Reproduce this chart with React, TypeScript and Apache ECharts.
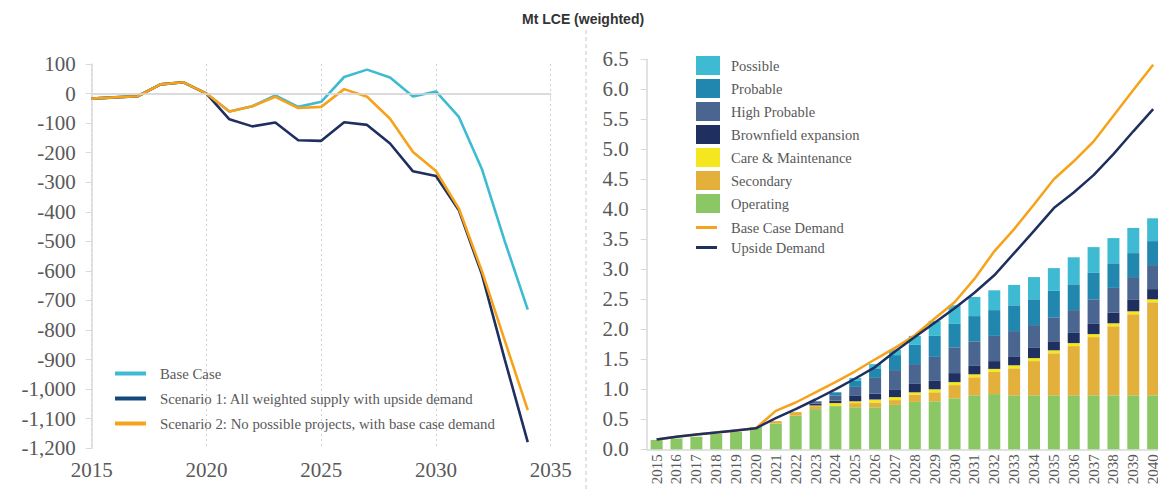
import React, { useEffect, useRef } from "react";
import * as echarts from "echarts";

// ---------- Left chart: balance (kt LCE) ----------
const balanceYears = [2015, 2016, 2017, 2018, 2019, 2020, 2021, 2022, 2023, 2024, 2025, 2026, 2027, 2028, 2029, 2030, 2031, 2032, 2033, 2034];
const baseCase = [-17, -13, -9, 31, 38, 0, -61, -43, -6, -45, -28, 56, 81, 54, -10, 7, -79, -255, -500, -731];
const scenario1 = [-17, -13, -9, 31, 38, 0, -87, -111, -98, -158, -160, -97, -106, -169, -263, -279, -395, -611, -900, -1179];
const scenario2 = [-17, -13, -9, 31, 38, 0, -61, -43, -11, -49, -45, 15, -11, -85, -198, -262, -389, -600, -836, -1071];

// ---------- Right chart: supply vs demand (Mt LCE) ----------
const years = ["2015", "2016", "2017", "2018", "2019", "2020", "2021", "2022", "2023", "2024", "2025", "2026", "2027", "2028", "2029", "2030", "2031", "2032", "2033", "2034", "2035", "2036", "2037", "2038", "2039", "2040"];
const operating = [0.155, 0.18, 0.21, 0.255, 0.29, 0.37, 0.43, 0.56, 0.67, 0.72, 0.70, 0.70, 0.74, 0.79, 0.80, 0.85, 0.90, 0.92, 0.90, 0.90, 0.90, 0.90, 0.90, 0.90, 0.90, 0.90];
const secondary = [0, 0, 0, 0, 0, 0, 0.04, 0.06, 0.05, 0.0, 0.07, 0.08, 0.08, 0.12, 0.15, 0.22, 0.30, 0.37, 0.45, 0.57, 0.70, 0.82, 0.97, 1.15, 1.35, 1.55];
const careMaintenance = [0, 0, 0, 0, 0, 0, 0, 0, 0.01, 0.05, 0.03, 0.05, 0.05, 0.04, 0.05, 0.05, 0.05, 0.05, 0.05, 0.05, 0.05, 0.05, 0.05, 0.05, 0.05, 0.05];
const brownfield = [0, 0, 0, 0, 0, 0, 0, 0, 0.03, 0.04, 0.09, 0.10, 0.13, 0.14, 0.14, 0.15, 0.14, 0.13, 0.15, 0.17, 0.15, 0.17, 0.17, 0.18, 0.19, 0.17];
const highProbable = [0, 0, 0, 0, 0, 0, 0, 0, 0.04, 0.09, 0.15, 0.26, 0.32, 0.33, 0.40, 0.43, 0.41, 0.42, 0.42, 0.38, 0.40, 0.38, 0.41, 0.41, 0.38, 0.40];
const probable = [0, 0, 0, 0, 0, 0, 0, 0, 0, 0.05, 0.10, 0.16, 0.25, 0.32, 0.35, 0.39, 0.42, 0.43, 0.43, 0.43, 0.44, 0.43, 0.44, 0.41, 0.40, 0.40];
const possible = [0, 0, 0, 0, 0, 0, 0, 0, 0, 0, 0.05, 0.07, 0.09, 0.15, 0.25, 0.31, 0.32, 0.33, 0.34, 0.37, 0.38, 0.45, 0.43, 0.42, 0.42, 0.38];
const baseDemand = [0.165, 0.21, 0.245, 0.28, 0.315, 0.35, 0.64, 0.78, 0.95, 1.12, 1.30, 1.50, 1.69, 1.90, 2.18, 2.45, 2.84, 3.30, 3.67, 4.08, 4.50, 4.80, 5.13, 5.56, 5.99, 6.41];
const upsideDemand = [0.165, 0.21, 0.245, 0.28, 0.315, 0.35, 0.52, 0.67, 0.83, 1.00, 1.18, 1.37, 1.63, 1.87, 2.11, 2.35, 2.61, 2.90, 3.27, 3.64, 4.02, 4.28, 4.57, 4.92, 5.30, 5.67];

const leftYTicks = { min: -1200, max: 100, interval: 100 };
const rightYTicks = { min: 0, max: 6.5, interval: 0.5 };

const SERIF = "'Liberation Serif', 'Times New Roman', serif";
const SANS = "'Liberation Sans', Arial, sans-serif";
const LABEL = "#595959";
const AXIS = "#d9d9d9";

const C = {
  cyan: "#3dbbd3",
  navy: "#1f2f5f",
  orange: "#f7a21b",
  operating: "#8bc765",
  secondary: "#e3b03c",
  care: "#f5e71f",
  brownfield: "#1f2f5f",
  highProb: "#4a6590",
  probable: "#2187ae",
  possible: "#3ebbd3",
};

function fmtLeft(v: number) {
  const a = Math.abs(v).toLocaleString("en-US");
  return v < 0 ? "-" + a : a;
}

export default function App() {
  const ref = useRef<HTMLDivElement>(null);

  useEffect(() => {
    if (!ref.current) return;
    const chart = echarts.init(ref.current, undefined, { renderer: "svg" });

    const pair = (arr: number[]) => balanceYears.map((y, i) => [y, arr[i]]);
    const barSeries = (name: string, data: number[], color: string) => ({
      name,
      type: "bar",
      xAxisIndex: 1,
      yAxisIndex: 1,
      stack: "supply",
      barWidth: 12,
      data,
      itemStyle: { color },
      silent: true,
    });
    const legendText = (size: number) => ({ fontFamily: SERIF, fontSize: size, color: LABEL, lineHeight: 14, height: 14 });

    chart.setOption({
      animation: false,
      backgroundColor: "#ffffff",
      title: {
        text: "Mt LCE (weighted)",
        left: 522,
        top: 12,
        padding: 0,
        textStyle: { fontFamily: SANS, fontSize: 14, fontWeight: "bold", color: "#333333" },
      },
      graphic: [
        {
          type: "line",
          shape: { x1: 586, y1: 30, x2: 586, y2: 489 },
          style: { stroke: "#c8c8c8", lineWidth: 1, lineDash: [4, 3] },
          silent: true,
        },
      ],
      legend: [
        {
          orient: "vertical",
          left: 115,
          top: 366,
          padding: 0,
          itemWidth: 31,
          itemHeight: 4,
          itemGap: 10,
          icon: "rect",
          textStyle: { ...legendText(14.8), padding: [0, 0, 0, 9] },
          data: [
            { name: "Base Case" },
            { name: "Scenario 1: All weighted supply with upside demand", itemStyle: { color: "#134a7e" } },
            { name: "Scenario 2: No possible projects, with base case demand" },
          ],
        },
        {
          orient: "vertical",
          left: 696,
          top: 56,
          padding: 0,
          itemWidth: 24,
          itemHeight: 19,
          itemGap: 4,
          icon: "rect",
          textStyle: { ...legendText(14.5), padding: [0, 0, 0, 6] },
          data: ["Possible", "Probable", "High Probable", "Brownfield expansion", "Care & Maintenance", "Secondary", "Operating"],
        },
        {
          orient: "vertical",
          left: 696,
          top: 220,
          padding: 0,
          itemWidth: 21,
          itemHeight: 3,
          itemGap: 5,
          icon: "rect",
          textStyle: { ...legendText(14.5), padding: [0, 0, 0, 9] },
          data: ["Base Case Demand", "Upside Demand"],
        },
      ],
      grid: [
        { left: 91.7, top: 64, width: 459, height: 384.3, containLabel: false },
        { left: 646.7, top: 59.3, width: 516.4, height: 390, containLabel: false },
      ],
      xAxis: [
        {
          type: "value",
          gridIndex: 0,
          min: 2015,
          max: 2035,
          interval: 5,
          axisLine: { show: true, lineStyle: { color: AXIS, width: 1.5 } },
          axisTick: { show: true, length: 5, lineStyle: { color: AXIS } },
          axisLabel: { formatter: (v: number) => String(v), fontFamily: SERIF, fontSize: 21, color: LABEL, margin: 11 },
          splitLine: { show: true, lineStyle: { color: "#d0d0d0", type: [2, 3] } },
        },
        {
          type: "category",
          gridIndex: 1,
          data: years,
          boundaryGap: true,
          axisLine: { show: true, lineStyle: { color: AXIS, width: 1.5 } },
          axisTick: { show: false },
          axisLabel: { interval: 0, rotate: 90, fontFamily: SERIF, fontSize: 15, color: LABEL, margin: 5 },
          splitLine: { show: false },
        },
      ],
      yAxis: [
        {
          type: "value",
          gridIndex: 0,
          ...leftYTicks,
          axisLine: { show: true, lineStyle: { color: AXIS, width: 1.5 } },
          axisTick: { show: true, length: 6, lineStyle: { color: AXIS } },
          axisLabel: { formatter: fmtLeft, fontFamily: SERIF, fontSize: 21, color: LABEL, margin: 16 },
          splitLine: { show: false },
        },
        {
          type: "value",
          gridIndex: 1,
          ...rightYTicks,
          axisLine: { show: true, lineStyle: { color: AXIS, width: 1.5 } },
          axisTick: { show: true, length: 6, lineStyle: { color: AXIS } },
          axisLabel: { formatter: (v: number) => v.toFixed(1), fontFamily: SERIF, fontSize: 21, color: LABEL, margin: 18 },
          splitLine: { show: false },
        },
      ],
      series: [
        {
          name: "Base Case",
          type: "line",
          xAxisIndex: 0,
          yAxisIndex: 0,
          data: pair(baseCase),
          symbol: "none",
          lineStyle: { color: C.cyan, width: 2.6 },
          itemStyle: { color: C.cyan },
          markLine: {
            silent: true,
            symbol: "none",
            label: { show: false },
            lineStyle: { color: AXIS, type: "solid", width: 1.5 },
            data: [{ yAxis: 0 }],
          },
          z: 2,
        },
        {
          name: "Scenario 1: All weighted supply with upside demand",
          type: "line",
          xAxisIndex: 0,
          yAxisIndex: 0,
          data: pair(scenario1),
          symbol: "none",
          lineStyle: { color: C.navy, width: 2.6 },
          itemStyle: { color: C.navy },
          z: 3,
        },
        {
          name: "Scenario 2: No possible projects, with base case demand",
          type: "line",
          xAxisIndex: 0,
          yAxisIndex: 0,
          data: pair(scenario2),
          symbol: "none",
          lineStyle: { color: C.orange, width: 2.6 },
          itemStyle: { color: C.orange },
          z: 4,
        },
        barSeries("Operating", operating, C.operating),
        barSeries("Secondary", secondary, C.secondary),
        barSeries("Care & Maintenance", careMaintenance, C.care),
        barSeries("Brownfield expansion", brownfield, C.brownfield),
        barSeries("High Probable", highProbable, C.highProb),
        barSeries("Probable", probable, C.probable),
        barSeries("Possible", possible, C.possible),
        {
          name: "Base Case Demand",
          type: "line",
          xAxisIndex: 1,
          yAxisIndex: 1,
          data: baseDemand,
          symbol: "none",
          lineStyle: { color: C.orange, width: 2.5 },
          itemStyle: { color: C.orange },
          z: 5,
        },
        {
          name: "Upside Demand",
          type: "line",
          xAxisIndex: 1,
          yAxisIndex: 1,
          data: upsideDemand,
          symbol: "none",
          lineStyle: { color: C.navy, width: 2.5 },
          itemStyle: { color: C.navy },
          z: 6,
        },
      ],
    });

    return () => chart.dispose();
  }, []);

  return (
    <div style={{ position: "fixed", left: 0, top: 0, width: 1158, height: 489, overflow: "hidden", background: "#fff" }}>
      <div ref={ref} style={{ width: 1175, height: 489 }} />
    </div>
  );
}
